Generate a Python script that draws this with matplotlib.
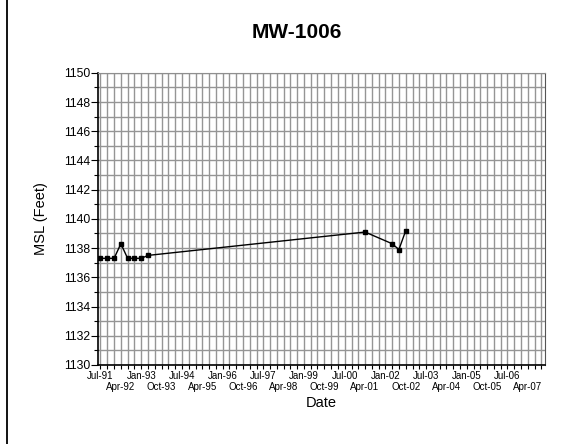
import pandas as pd
import matplotlib
matplotlib.use("Agg")
import matplotlib.pyplot as plt
from matplotlib.lines import Line2D

plt.rcParams['font.family'] = ['Liberation Sans', 'DejaVu Sans']

# Water level readings for MW-1006
sample_dates = ["1991-07-01", "1991-10-01", "1992-01-01", "1992-04-01",
                "1992-07-01", "1992-10-01", "1993-01-01", "1993-04-01",
                "2001-04-01", "2002-04-01", "2002-07-01", "2002-10-01"]
levels = [1137.3, 1137.3, 1137.3, 1138.3,
          1137.3, 1137.3, 1137.3, 1137.5,
          1139.1, 1138.3, 1137.9, 1139.2]

# axis setup
tick_dates = pd.date_range("1991-07-01", "2007-04-01", freq="9MS")
grid_dates = pd.date_range("1991-07-01", "2007-10-01", freq="QS-JAN")
x_min, x_max = "1991-06-01", "2007-11-15"

fig = plt.figure(figsize=(5.71, 4.44), dpi=100)
ax = fig.add_axes([0.172, 0.178, 0.782, 0.658])

x = pd.to_datetime(sample_dates)
ax.plot(x, levels, color='black', lw=1, marker='s', markersize=3.4, zorder=3)

ax.set_xlim(pd.Timestamp(x_min), pd.Timestamp(x_max))
ax.set_ylim(1130, 1150)

ax.set_xticks(tick_dates)
ax.set_xticklabels([d.strftime("%b-%y") for d in tick_dates], fontsize=7)
# stagger every other date label onto a second row
for lab in ax.get_xticklabels()[1::2]:
    lab.set_y(-0.04)
ax.set_xticks(grid_dates, minor=True)

ax.set_yticks(range(1130, 1151, 2))
ax.set_yticks(range(1130, 1151, 1), minor=True)
ax.tick_params(axis='y', which='major', labelsize=8.8, length=5, width=0.8, pad=1)
ax.tick_params(axis='y', which='minor', length=3, width=0.8)
ax.tick_params(axis='x', which='both', length=3, width=0.8, pad=1)

ax.grid(True, which='both', color='#959595', lw=1.0)
ax.set_axisbelow(True)

for side in ['left', 'bottom']:
    ax.spines[side].set_color('black')
    ax.spines[side].set_linewidth(1.2)
ax.spines['top'].set_color('#8f8f8f')
ax.spines['right'].set_color('#555555')

ax.set_ylabel("MSL (Feet)", fontsize=10.5, labelpad=11)
ax.set_xlabel("Date", fontsize=10.5, labelpad=3)
fig.text(0.52, 0.927, "MW-1006", ha='center', va='center', fontsize=15, fontweight='bold')

# page border line on the left
fig.add_artist(Line2D([7 / 571, 7 / 571], [0, 1], color='black', lw=1.3))

fig.savefig("out.png", dpi=100)
